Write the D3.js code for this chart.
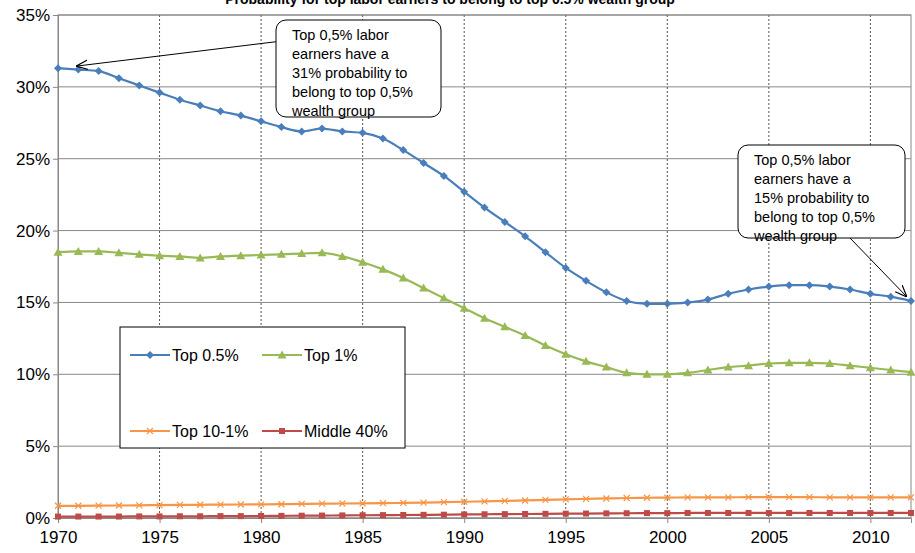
<!DOCTYPE html><html><head><meta charset="utf-8"><script src="https://cdn.jsdelivr.net/npm/d3@7"></script>
<style>body{margin:0;background:#fff}text{font-family:Arial,"Liberation Sans",sans-serif}</style></head><body><svg id="c" width="915" height="553"></svg><script>
const years=d3.range(1970,2013);
const top05=[31.3,31.2,31.1,30.6,30.1,29.6,29.1,28.7,28.3,28.0,27.6,27.2,26.9,27.1,26.9,26.8,26.4,25.6,24.7,23.8,22.7,21.6,20.6,19.6,18.5,17.4,16.5,15.7,15.1,14.9,14.9,15.0,15.2,15.6,15.9,16.1,16.2,16.2,16.1,15.9,15.6,15.4,15.1];
const top1=[18.5,18.55,18.55,18.45,18.35,18.25,18.2,18.1,18.2,18.25,18.3,18.35,18.4,18.45,18.2,17.8,17.3,16.7,16.0,15.3,14.6,13.9,13.3,12.7,12.0,11.4,10.9,10.5,10.1,10.0,10.0,10.1,10.3,10.5,10.6,10.75,10.8,10.8,10.75,10.6,10.45,10.3,10.15];
const top10_1=[0.85,0.85,0.86,0.87,0.88,0.9,0.91,0.92,0.93,0.94,0.95,0.96,0.98,1.0,1.01,1.02,1.03,1.05,1.07,1.1,1.13,1.16,1.19,1.22,1.26,1.3,1.33,1.36,1.39,1.41,1.42,1.43,1.44,1.44,1.45,1.45,1.45,1.45,1.44,1.44,1.44,1.44,1.44];
const middle40=[0.1,0.1,0.1,0.1,0.11,0.11,0.12,0.12,0.13,0.13,0.14,0.15,0.16,0.17,0.18,0.19,0.2,0.21,0.22,0.23,0.25,0.26,0.27,0.28,0.29,0.3,0.31,0.32,0.33,0.34,0.34,0.35,0.35,0.35,0.35,0.35,0.35,0.35,0.35,0.35,0.35,0.35,0.35];
const yTicks=[0,5,10,15,20,25,30,35];
const xTicks=[1970,1975,1980,1985,1990,1995,2000,2005,2010];
const svg=d3.select("#c");
const L=58,R=911,T=15,B=518;
const x=d3.scaleLinear().domain([1970,2012]).range([L,R]);
const y=d3.scaleLinear().domain([0,35]).range([B,T]);
svg.append("text").attr("x",450).attr("y",4).attr("text-anchor","middle").attr("font-weight","bold").attr("font-size",14).text("Probability for top labor earners to belong to top 0.5% wealth group");
svg.selectAll(".hg").data(yTicks).join("line").attr("x1",L).attr("x2",R).attr("y1",d=>y(d)).attr("y2",d=>y(d)).attr("stroke","#888").attr("stroke-width",1);
svg.selectAll(".vg").data(xTicks.slice(1)).join("line").attr("x1",d=>x(d)).attr("x2",d=>x(d)).attr("y1",T).attr("y2",B).attr("stroke","#555").attr("stroke-dasharray","2,2");
svg.append("rect").attr("x",L).attr("y",T).attr("width",R-L).attr("height",B-T).attr("fill","none").attr("stroke","#888");
const ya=svg.append("g").attr("transform",`translate(${L},0)`).call(d3.axisLeft(y).tickValues(yTicks).tickFormat(d=>d+"%").tickSize(5));
const xa=svg.append("g").attr("transform",`translate(0,${B})`).call(d3.axisBottom(x).tickValues(xTicks).tickFormat(d3.format("d")).tickSize(5));
[ya,xa].forEach(a=>{a.selectAll("text").attr("font-size",17).attr("fill","#000");a.select(".domain").attr("stroke","#888");a.selectAll(".tick line").attr("stroke","#888");});
xa.selectAll("text").attr("dy","1.0em");
const series=[{n:"Top 0.5%",v:top05,c:"#4a7ebb",m:"diamond"},{n:"Top 1%",v:top1,c:"#98b954",m:"triangle"},{n:"Top 10-1%",v:top10_1,c:"#f79646",m:"x"},{n:"Middle 40%",v:middle40,c:"#be4b48",m:"square"}];
const line=d3.line().x((d,i)=>x(years[i])).y(d=>y(d)).curve(d3.curveMonotoneX);
function marker(g,type,c){
 if(type==="diamond")g.append("path").attr("d","M0,-4L4,0L0,4L-4,0Z").attr("fill",c);
 else if(type==="triangle")g.append("path").attr("d","M0,-4.5L4.5,3.5L-4.5,3.5Z").attr("fill",c);
 else if(type==="square")g.append("rect").attr("x",-3).attr("y",-3).attr("width",6).attr("height",6).attr("fill",c);
 else g.append("path").attr("d","M-3,-3L3,3M-3,3L3,-3").attr("stroke",c).attr("stroke-width",1.2);
}
series.slice().reverse().forEach(s=>{
 svg.append("path").attr("d",line(s.v)).attr("fill","none").attr("stroke",s.c).attr("stroke-width",2.2);
 s.v.forEach((v,i)=>marker(svg.append("g").attr("transform",`translate(${x(years[i])},${y(v)})`),s.m,s.c));
});
// legend
svg.append("rect").attr("x",120).attr("y",327).attr("width",285).attr("height",121).attr("fill","#fff").attr("stroke","#000");
const lp=[[130,355],[262,355],[130,431],[262,431]];
series.forEach((s,i)=>{const [lx,ly]=lp[i];
 svg.append("line").attr("x1",lx).attr("x2",lx+40).attr("y1",ly).attr("y2",ly).attr("stroke",s.c).attr("stroke-width",2.2);
 marker(svg.append("g").attr("transform",`translate(${lx+20},${ly})`),s.m,s.c);
 svg.append("text").attr("x",lx+42).attr("y",ly+6).attr("font-size",16).text(s.n);});
// callouts
svg.append("defs").append("marker").attr("id","ar").attr("viewBox","0 0 10 10").attr("refX",10).attr("refY",5).attr("markerWidth",12).attr("markerHeight",12).attr("orient","auto").append("path").attr("d","M0,1L10,5L0,9").attr("fill","none").attr("stroke","#000");
function callout(bx,by,w,h,lines,ax1,ay1,ax2,ay2){
 svg.append("line").attr("x1",ax1).attr("y1",ay1).attr("x2",ax2).attr("y2",ay2).attr("stroke","#000").attr("marker-end","url(#ar)");
 svg.append("rect").attr("x",bx).attr("y",by).attr("width",w).attr("height",h).attr("rx",10).attr("fill","#fff").attr("stroke","#000");
 lines.forEach((t,i)=>svg.append("text").attr("x",bx+16).attr("y",by+20+i*19).attr("font-size",14.5).text(t));
}
callout(276,20,165,97,["Top 0,5% labor","earners have a","31% probability to","belong to top 0,5%","wealth group"],290,40,x(1970)+18,y(31.3)-2);
callout(738,145,167,93,["Top 0,5% labor","earners have a","15% probability to","belong to top 0,5%","wealth group"],850,238,x(2012)-4,y(15.1)-4);
</script></body></html>
